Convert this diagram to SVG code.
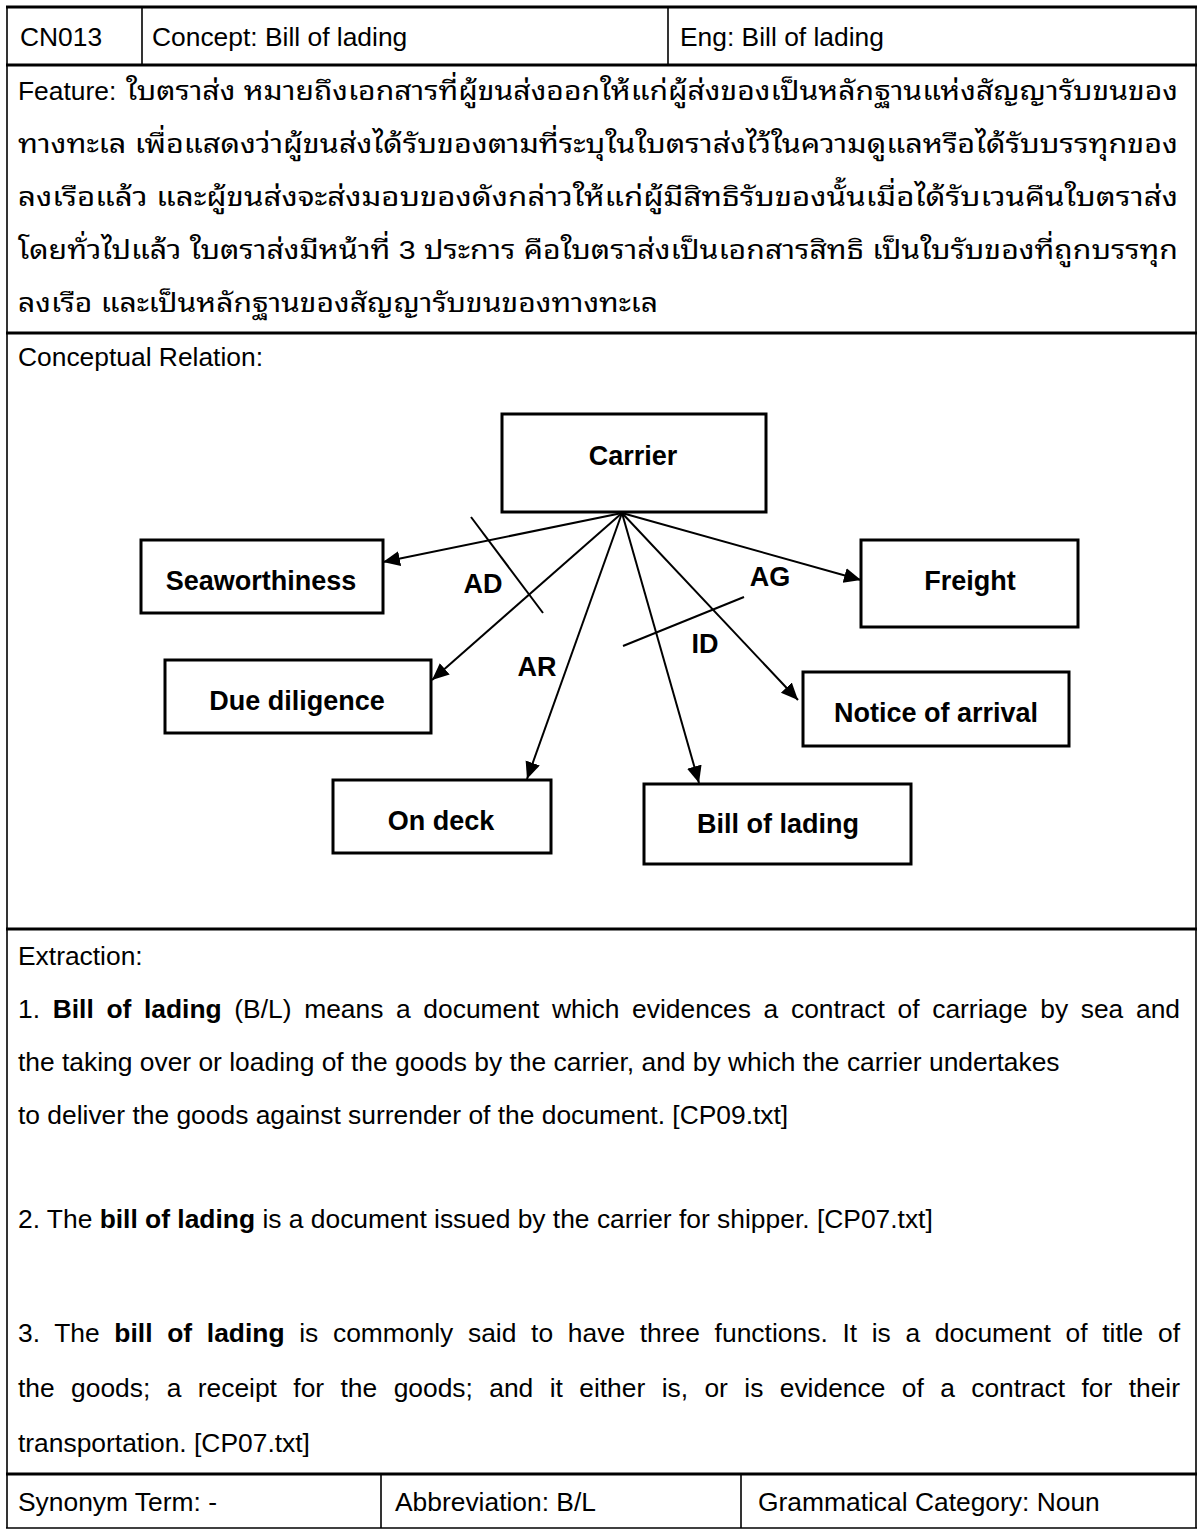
<svg xmlns="http://www.w3.org/2000/svg" width="1204" height="1531" viewBox="0 0 1204 1531">
  <style>
    .txt { font-family: "Liberation Sans", Arial, sans-serif; font-size: 26.4px; fill: #000; }
    .th { font-family: "Liberation Sans", "Noto Sans Thai Looped", "Noto Serif Thai", "Noto Sans Thai", sans-serif; font-size: 26.4px; fill: #000; }
    .lbl { font-family: "Liberation Sans", Arial, sans-serif; font-size: 27px; font-weight: bold; fill: #000; }
    .b { font-weight: bold; }
    .hline { stroke: #000; stroke-width: 3; }
    .vline { stroke: #000; stroke-width: 1.6; }
    .box { fill: #fff; stroke: #000; stroke-width: 3; }
    .edge { stroke: #000; stroke-width: 2; fill: none; marker-end: url(#arrow); }
    .cut { stroke: #000; stroke-width: 2; }
  </style>
  <defs>
    <marker id="arrow" markerUnits="userSpaceOnUse" markerWidth="18" markerHeight="16" refX="17" refY="7.5" orient="auto">
      <path d="M0,0 L17,7.5 L0,15 Z" fill="#000"/>
    </marker>
  </defs>

  <rect width="1204" height="1531" fill="#fff"/>

  <!-- table frame -->
  <g id="table">
    <line class="hline" x1="6" y1="7" x2="1197" y2="7"/>
    <line class="vline" x1="7" y1="7" x2="7" y2="1528"/>
    <line class="vline" x1="1196" y1="7" x2="1196" y2="1528"/>
    <line class="hline" x1="6" y1="65" x2="1197" y2="65"/>
    <line class="vline" x1="142" y1="7" x2="142" y2="65"/>
    <line class="vline" x1="668" y1="7" x2="668" y2="65"/>
    <line class="hline" x1="6" y1="333" x2="1197" y2="333"/>
    <line class="hline" x1="6" y1="929" x2="1197" y2="929"/>
    <line class="hline" x1="6" y1="1474" x2="1197" y2="1474"/>
    <line class="vline" x1="381" y1="1474" x2="381" y2="1528"/>
    <line class="vline" x1="741" y1="1474" x2="741" y2="1528"/>
    <line class="vline" x1="6" y1="1528" x2="1197" y2="1528"/>
  </g>

  <!-- header row -->
  <g id="header">
    <text class="txt" x="20" y="46">CN013</text>
    <text class="txt" x="152" y="46">Concept: Bill of lading</text>
    <text class="txt" x="680" y="46">Eng: Bill of lading</text>
  </g>

  <!-- feature text -->
  <g id="feature">
    <text class="txt" x="18" y="100">Feature:</text>
    <text class="th" x="126" y="100" textLength="1052" lengthAdjust="spacingAndGlyphs">ใบตราส่ง หมายถึงเอกสารที่ผู้ขนส่งออกให้แก่ผู้ส่งของเป็นหลักฐานแห่งสัญญารับขนของ</text>
    <text class="th" x="18" y="153" textLength="1160" lengthAdjust="spacingAndGlyphs">ทางทะเล  เพื่อแสดงว่าผู้ขนส่งได้รับของตามที่ระบุในใบตราส่งไว้ในความดูแลหรือได้รับบรรทุกของ</text>
    <text class="th" x="18" y="206" textLength="1160" lengthAdjust="spacingAndGlyphs">ลงเรือแล้ว  และผู้ขนส่งจะส่งมอบของดังกล่าวให้แก่ผู้มีสิทธิรับของนั้นเมื่อได้รับเวนคืนใบตราส่ง</text>
    <text class="th" x="18" y="259" textLength="1160" lengthAdjust="spacingAndGlyphs">โดยทั่วไปแล้ว  ใบตราส่งมีหน้าที่ 3 ประการ คือใบตราส่งเป็นเอกสารสิทธิ  เป็นใบรับของที่ถูกบรรทุก</text>
    <text class="th" x="18" y="312" textLength="640" lengthAdjust="spacingAndGlyphs">ลงเรือ  และเป็นหลักฐานของสัญญารับขนของทางทะเล</text>
  </g>

  <text class="txt" x="18" y="366">Conceptual Relation:</text>

  <!-- connectors -->
  <g id="connectors">
    <line class="edge" x1="622" y1="513" x2="383" y2="562"/>
    <line class="edge" x1="622" y1="513" x2="432" y2="680"/>
    <line class="edge" x1="622" y1="513" x2="527" y2="779"/>
    <line class="edge" x1="622" y1="513" x2="699" y2="783"/>
    <line class="edge" x1="622" y1="513" x2="798" y2="700"/>
    <line class="edge" x1="622" y1="513" x2="861" y2="580"/>
    <line class="cut" x1="471" y1="517" x2="543" y2="613"/>
    <line class="cut" x1="623" y1="646" x2="744" y2="597"/>
    <text class="lbl" x="483" y="593" text-anchor="middle">AD</text>
    <text class="lbl" x="537" y="676" text-anchor="middle">AR</text>
    <text class="lbl" x="770" y="586" text-anchor="middle">AG</text>
    <text class="lbl" x="705" y="653" text-anchor="middle">ID</text>
  </g>

  <!-- nodes -->
  <g id="carrier">
    <rect class="box" x="502" y="414" width="264" height="98"/>
    <text class="lbl" x="633" y="465" text-anchor="middle">Carrier</text>
  </g>
  <g id="seaworthiness">
    <rect class="box" x="141" y="540" width="242" height="73"/>
    <text class="lbl" x="261" y="590" text-anchor="middle">Seaworthiness</text>
  </g>
  <g id="freight">
    <rect class="box" x="861" y="540" width="217" height="87"/>
    <text class="lbl" x="970" y="590" text-anchor="middle">Freight</text>
  </g>
  <g id="due-diligence">
    <rect class="box" x="165" y="660" width="266" height="73"/>
    <text class="lbl" x="297" y="710" text-anchor="middle">Due diligence</text>
  </g>
  <g id="notice-of-arrival">
    <rect class="box" x="803" y="672" width="266" height="74"/>
    <text class="lbl" x="936" y="722" text-anchor="middle">Notice of arrival</text>
  </g>
  <g id="on-deck">
    <rect class="box" x="333" y="780" width="218" height="73"/>
    <text class="lbl" x="441" y="830" text-anchor="middle">On deck</text>
  </g>
  <g id="bill-of-lading">
    <rect class="box" x="644" y="784" width="267" height="80"/>
    <text class="lbl" x="778" y="833" text-anchor="middle">Bill of lading</text>
  </g>

  <!-- extraction -->
  <g id="extraction">
    <text class="txt" x="18" y="965">Extraction:</text>
    <text class="txt" x="18" y="1018" word-spacing="5.3" textLength="1162" lengthAdjust="spacing">1. <tspan class="b">Bill of lading</tspan> (B/L) means a document which evidences a contract of carriage by sea and</text>
    <text class="txt" x="18" y="1071">the taking over or loading of the goods by the carrier, and by which the carrier undertakes</text>
    <text class="txt" x="18" y="1124">to deliver the goods against surrender of the document. [CP09.txt]</text>
    <text class="txt" x="18" y="1228">2. The <tspan class="b">bill of lading</tspan> is a document issued by the carrier for shipper. [CP07.txt]</text>
    <text class="txt" x="18" y="1342" word-spacing="7.3" textLength="1162" lengthAdjust="spacing">3. The <tspan class="b">bill of lading</tspan> is commonly said to have three functions. It is a document of title of</text>
    <text class="txt" x="18" y="1397" word-spacing="9.1" textLength="1162" lengthAdjust="spacing">the goods; a receipt for the goods; and it either is, or is evidence of a contract for their</text>
    <text class="txt" x="18" y="1452">transportation. [CP07.txt]</text>
  </g>

  <!-- bottom row -->
  <g id="footer">
    <text class="txt" x="18" y="1511">Synonym Term: -</text>
    <text class="txt" x="395" y="1511">Abbreviation: B/L</text>
    <text class="txt" x="758" y="1511">Grammatical Category: Noun</text>
  </g>
</svg>
